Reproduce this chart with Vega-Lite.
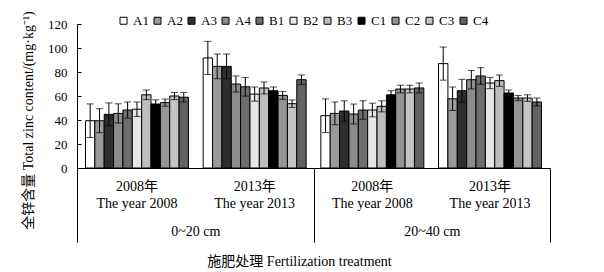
{
  "$schema": "https://vega.github.io/schema/vega-lite/v6.json",
  "width": 473,
  "height": 144,
  "autosize": {"type": "none"},
  "padding": {"left": 77, "top": 24, "right": 54, "bottom": 104},
  "background": "white",
  "config": {
    "view": {"stroke": null},
    "font": "Liberation Serif, Noto Sans CJK SC",
    "axis": {"labelColor": "black", "titleColor": "black", "domainColor": "black", "tickColor": "black", "titleFontWeight": "normal", "labelFont": "Liberation Serif, Noto Sans CJK SC", "titleFont": "Liberation Serif, Noto Sans CJK SC"},
    "legend": {"labelFont": "Liberation Serif", "labelColor": "black"}
  },
  "datasets": {
    "bars": [
      {"group": "0~20 cm 2008", "series": "A1", "mean": 39.4, "lo": 25.4, "hi": 53.4},
      {"group": "0~20 cm 2008", "series": "A2", "mean": 39.4, "lo": 29.4, "hi": 49.4},
      {"group": "0~20 cm 2008", "series": "A3", "mean": 44.7, "lo": 35.2, "hi": 54.2},
      {"group": "0~20 cm 2008", "series": "A4", "mean": 45.5, "lo": 37.5, "hi": 53.5},
      {"group": "0~20 cm 2008", "series": "B1", "mean": 48.3, "lo": 41.6, "hi": 55},
      {"group": "0~20 cm 2008", "series": "B2", "mean": 49, "lo": 43, "hi": 55},
      {"group": "0~20 cm 2008", "series": "B3", "mean": 61, "lo": 57, "hi": 65},
      {"group": "0~20 cm 2008", "series": "C1", "mean": 53.3, "lo": 49.8, "hi": 56.8},
      {"group": "0~20 cm 2008", "series": "C2", "mean": 54.5, "lo": 51.5, "hi": 57.5},
      {"group": "0~20 cm 2008", "series": "C3", "mean": 60, "lo": 57, "hi": 63},
      {"group": "0~20 cm 2008", "series": "C4", "mean": 59, "lo": 55, "hi": 63},
      {"group": "0~20 cm 2013", "series": "A1", "mean": 91.7, "lo": 77.9, "hi": 105.5},
      {"group": "0~20 cm 2013", "series": "A2", "mean": 84.7, "lo": 74.4, "hi": 95},
      {"group": "0~20 cm 2013", "series": "A3", "mean": 84.7, "lo": 74.4, "hi": 95},
      {"group": "0~20 cm 2013", "series": "A4", "mean": 70, "lo": 63.3, "hi": 76.7},
      {"group": "0~20 cm 2013", "series": "B1", "mean": 67.7, "lo": 59.9, "hi": 75.5},
      {"group": "0~20 cm 2013", "series": "B2", "mean": 61.6, "lo": 55.7, "hi": 67.5},
      {"group": "0~20 cm 2013", "series": "B3", "mean": 66.7, "lo": 61.7, "hi": 71.7},
      {"group": "0~20 cm 2013", "series": "C1", "mean": 64.4, "lo": 61.3, "hi": 67.5},
      {"group": "0~20 cm 2013", "series": "C2", "mean": 60.5, "lo": 57.2, "hi": 63.8},
      {"group": "0~20 cm 2013", "series": "C3", "mean": 53.6, "lo": 50.5, "hi": 56.7},
      {"group": "0~20 cm 2013", "series": "C4", "mean": 73.6, "lo": 69.7, "hi": 77.5},
      {"group": "20~40 cm 2008", "series": "A1", "mean": 43.6, "lo": 29.6, "hi": 57.6},
      {"group": "20~40 cm 2008", "series": "A2", "mean": 45.5, "lo": 36, "hi": 55},
      {"group": "20~40 cm 2008", "series": "A3", "mean": 47.5, "lo": 39, "hi": 56},
      {"group": "20~40 cm 2008", "series": "A4", "mean": 45, "lo": 36.7, "hi": 53.3},
      {"group": "20~40 cm 2008", "series": "B1", "mean": 48.3, "lo": 40.6, "hi": 56},
      {"group": "20~40 cm 2008", "series": "B2", "mean": 48.3, "lo": 42.6, "hi": 54},
      {"group": "20~40 cm 2008", "series": "B3", "mean": 51.4, "lo": 46.8, "hi": 56},
      {"group": "20~40 cm 2008", "series": "C1", "mean": 61, "lo": 57.6, "hi": 64.4},
      {"group": "20~40 cm 2008", "series": "C2", "mean": 65.8, "lo": 62.6, "hi": 69},
      {"group": "20~40 cm 2008", "series": "C3", "mean": 65.8, "lo": 62.6, "hi": 69},
      {"group": "20~40 cm 2008", "series": "C4", "mean": 66.7, "lo": 62.6, "hi": 70.8},
      {"group": "20~40 cm 2013", "series": "A1", "mean": 87, "lo": 73.2, "hi": 100.8},
      {"group": "20~40 cm 2013", "series": "A2", "mean": 57.7, "lo": 47.9, "hi": 67.5},
      {"group": "20~40 cm 2013", "series": "A3", "mean": 64.4, "lo": 54.9, "hi": 73.9},
      {"group": "20~40 cm 2013", "series": "A4", "mean": 73.6, "lo": 65.9, "hi": 81.3},
      {"group": "20~40 cm 2013", "series": "B1", "mean": 76.7, "lo": 69.8, "hi": 83.6},
      {"group": "20~40 cm 2013", "series": "B2", "mean": 70.8, "lo": 66.1, "hi": 75.5},
      {"group": "20~40 cm 2013", "series": "B3", "mean": 72.8, "lo": 68.1, "hi": 77.5},
      {"group": "20~40 cm 2013", "series": "C1", "mean": 62.5, "lo": 60, "hi": 65},
      {"group": "20~40 cm 2013", "series": "C2", "mean": 58.3, "lo": 56.1, "hi": 60.5},
      {"group": "20~40 cm 2013", "series": "C3", "mean": 58.3, "lo": 55.6, "hi": 61},
      {"group": "20~40 cm 2013", "series": "C4", "mean": 55, "lo": 51.7, "hi": 58.3}
    ],
    "sections": [{"section": "0~20 cm"}, {"section": "20~40 cm"}]
  },
  "layer": [
    {
      "data": {"name": "bars"},
      "encoding": {
        "x": {
          "field": "group", "type": "nominal",
          "sort": ["0~20 cm 2008", "0~20 cm 2013", "20~40 cm 2008", "20~40 cm 2013"],
          "scale": {"paddingInner": 0.125, "paddingOuter": 0.072},
          "axis": {
            "title": null, "ticks": false, "domain": true, "domainWidth": 1,
            "labelAngle": 0, "labelFontSize": 14, "labelPadding": 11, "labelLineHeight": 17,
            "labelExpr": "[slice(datum.label, -4) + '年', 'The year ' + slice(datum.label, -4)]"
          }
        },
        "xOffset": {
          "field": "series", "type": "nominal",
          "sort": ["A1", "A2", "A3", "A4", "B1", "B2", "B3", "C1", "C2", "C3", "C4"],
          "scale": {"paddingInner": 0, "paddingOuter": 0}
        }
      },
      "layer": [
        {
          "mark": {"type": "bar", "stroke": "black", "strokeWidth": 1},
          "encoding": {
            "y": {
              "field": "mean", "type": "quantitative",
              "scale": {"domain": [0, 120], "nice": false},
              "axis": {
                "values": [0, 20, 40, 60, 80, 100, 120], "tickCount": 7, "grid": false, "tickSize": -4, "labelOverlap": false,
                "labelFontSize": 13, "labelPadding": 14, "domainWidth": 1,
                "title": "全锌含量 Total zinc content/(mg·kg⁻¹)", "titleFontSize": 14,
                "titleAngle": -90, "titleX": -49, "titleY": 96, "titleAlign": "center", "titleBaseline": "middle"
              }
            },
            "color": {
              "field": "series", "type": "nominal",
              "sort": ["A1", "A2", "A3", "A4", "B1", "B2", "B3", "C1", "C2", "C3", "C4"],
              "scale": {
                "domain": ["A1", "A2", "A3", "A4", "B1", "B2", "B3", "C1", "C2", "C3", "C4"],
                "range": ["#ffffff", "#9a9a9a", "#2e2e2e", "#8c8c8c", "#6e6e6e", "#e6e6e6", "#bdbdbd", "#000000", "#959595", "#c4c4c4", "#626262"]
              },
              "legend": {
                "title": null, "orient": "none", "direction": "horizontal", "columns": 11,
                "legendX": 40, "legendY": -10, "padding": 0,
                "symbolType": "square", "symbolSize": 49, "symbolStrokeColor": "black", "symbolStrokeWidth": 1,
                "labelFontSize": 13, "labelOffset": 3, "columnPadding": 2
              }
            }
          }
        },
        {
          "mark": {"type": "rule", "color": "black", "strokeWidth": 1},
          "encoding": {
            "y": {"field": "lo", "type": "quantitative", "axis": {"values": [0, 20, 40, 60, 80, 100, 120], "tickCount": 7, "labelOverlap": false}},
            "y2": {"field": "hi"}
          }
        },
        {
          "mark": {"type": "tick", "color": "black", "thickness": 1, "size": 7},
          "encoding": {"y": {"field": "hi", "type": "quantitative", "axis": {"values": [0, 20, 40, 60, 80, 100, 120], "tickCount": 7, "labelOverlap": false}}}
        },
        {
          "mark": {"type": "tick", "color": "black", "thickness": 1, "size": 7},
          "encoding": {"y": {"field": "lo", "type": "quantitative", "axis": {"values": [0, 20, 40, 60, 80, 100, 120], "tickCount": 7, "labelOverlap": false}}}
        }
      ]
    },
    {
      "data": {"name": "sections"},
      "mark": {"type": "tick", "opacity": 0},
      "encoding": {
        "x": {
          "field": "section", "type": "nominal",
          "scale": {"type": "band", "paddingInner": 0, "paddingOuter": 0},
          "axis": {
            "orient": "bottom", "domain": false, "ticks": true, "tickBand": "extent", "tickSize": 74, "tickWidth": 1,
            "labelAngle": 0, "labelFontSize": 14, "labelPadding": -18,
            "title": "施肥处理 Fertilization treatment", "titleFontSize": 14,
            "titleX": 222, "titleY": 93.5, "titleBaseline": "middle", "titleAlign": "center"
          }
        }
      }
    }
  ],
  "resolve": {"scale": {"x": "independent"}}
}
